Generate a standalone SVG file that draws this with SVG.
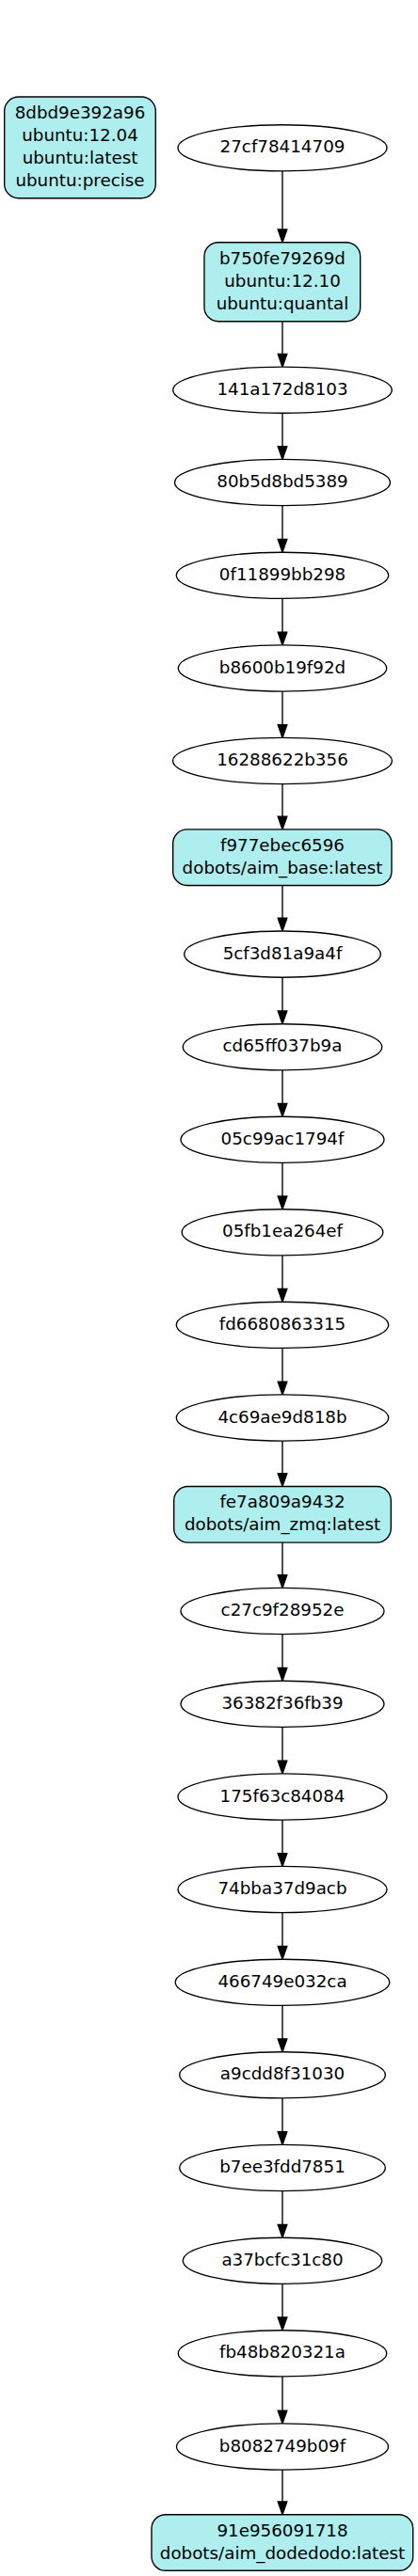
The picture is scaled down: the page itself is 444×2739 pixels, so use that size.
<svg xmlns="http://www.w3.org/2000/svg" width="444" height="2739" viewBox="0 0 444 2739">
<style>
.n ellipse{fill:#fff;stroke:#000;stroke-width:1.37}
.b rect{fill:#afeeee;stroke:#000;stroke-width:1.37}
text{font-family:"DejaVu Sans","Liberation Sans",sans-serif;font-size:18.3px;fill:#000;text-anchor:middle}
#edges line{stroke:#000;stroke-width:1.37;marker-end:url(#ah)}
</style>
<defs>
<marker id="ah" markerUnits="userSpaceOnUse" viewBox="0 0 14 10" markerWidth="14" markerHeight="10" refX="0" refY="5" orient="auto" overflow="visible">
<path d="M0,0.2 L13.7,5 L0,9.8 Z" fill="#000" stroke="#000" stroke-width="1.37"/>
</marker>
</defs>
<rect width="444" height="2739" fill="#fff"/>
<g id="edges">
<line x1="300" y1="181.9" x2="300" y2="244.0"/>
<line x1="300" y1="341.7" x2="300" y2="376.4"/>
<line x1="300" y1="439.3" x2="300" y2="474.7"/>
<line x1="300" y1="537.6" x2="300" y2="573.5"/>
<line x1="300" y1="636.4" x2="300" y2="672.2"/>
<line x1="300" y1="735.1" x2="300" y2="770.7"/>
<line x1="300" y1="833.6" x2="300" y2="868.2"/>
<line x1="300" y1="941.5" x2="300" y2="976.3"/>
<line x1="300" y1="1039.2" x2="300" y2="1075.0"/>
<line x1="300" y1="1137.9" x2="300" y2="1173.5"/>
<line x1="300" y1="1236.4" x2="300" y2="1272.0"/>
<line x1="300" y1="1334.9" x2="300" y2="1370.5"/>
<line x1="300" y1="1433.4" x2="300" y2="1469.2"/>
<line x1="300" y1="1532.1" x2="300" y2="1566.8"/>
<line x1="300" y1="1640.1" x2="300" y2="1674.7"/>
<line x1="300" y1="1737.6" x2="300" y2="1773.5"/>
<line x1="300" y1="1836.4" x2="300" y2="1872.2"/>
<line x1="300" y1="1935.1" x2="300" y2="1970.7"/>
<line x1="300" y1="2033.6" x2="300" y2="2069.5"/>
<line x1="300" y1="2132.4" x2="300" y2="2168.0"/>
<line x1="300" y1="2230.9" x2="300" y2="2266.7"/>
<line x1="300" y1="2329.6" x2="300" y2="2365.5"/>
<line x1="300" y1="2428.4" x2="300" y2="2464.0"/>
<line x1="300" y1="2526.9" x2="300" y2="2563.2"/>
<line x1="300" y1="2626.1" x2="300" y2="2660.0"/>
</g>
<g id="n8dbd9e392a96" class="b"><rect x="4.7" y="103" width="160.6" height="107.7" rx="15"/>
<text x="85" y="125.9">8dbd9e392a96</text><text x="85" y="149.9">ubuntu:12.04</text><text x="85" y="173.9">ubuntu:latest</text><text x="85" y="197.9">ubuntu:precise</text></g>
<g id="n27cf78414709" class="n"><ellipse cx="300" cy="157.3" rx="111" ry="24.6"/><text x="300" y="162.3">27cf78414709</text></g>
<g id="nb750fe79269d" class="b"><rect x="217" y="257.7" width="165.7" height="84" rx="15"/>
<text x="300" y="280.7">b750fe79269d</text><text x="300" y="304.7">ubuntu:12.10</text><text x="300" y="328.7">ubuntu:quantal</text></g>
<g id="n141a172d8103" class="n"><ellipse cx="300" cy="414.7" rx="116.3" ry="24.6"/><text x="300" y="419.7">141a172d8103</text></g>
<g id="n80b5d8bd5389" class="n"><ellipse cx="300" cy="513" rx="114.5" ry="24.6"/><text x="300" y="518">80b5d8bd5389</text></g>
<g id="n0f11899bb298" class="n"><ellipse cx="300" cy="611.8" rx="112.7" ry="24.6"/><text x="300" y="616.8">0f11899bb298</text></g>
<g id="nb8600b19f92d" class="n"><ellipse cx="300" cy="710.5" rx="110.7" ry="24.6"/><text x="300" y="715.5">b8600b19f92d</text></g>
<g id="n16288622b356" class="n"><ellipse cx="300" cy="809" rx="116.4" ry="24.6"/><text x="300" y="814">16288622b356</text></g>
<g id="nf977ebec6596" class="b"><rect x="183.7" y="881.9" width="232.3" height="59.6" rx="15"/>
<text x="300" y="904.7">f977ebec6596</text><text x="300" y="928.7">dobots/aim_base:latest</text></g>
<g id="n5cf3d81a9a4f" class="n"><ellipse cx="300" cy="1014.6" rx="104.3" ry="24.6"/><text x="300" y="1019.6">5cf3d81a9a4f</text></g>
<g id="ncd65ff037b9a" class="n"><ellipse cx="300" cy="1113.3" rx="105.7" ry="24.6"/><text x="300" y="1118.3">cd65ff037b9a</text></g>
<g id="n05c99ac1794f" class="n"><ellipse cx="300" cy="1211.8" rx="108" ry="24.6"/><text x="300" y="1216.8">05c99ac1794f</text></g>
<g id="n05fb1ea264ef" class="n"><ellipse cx="300" cy="1310.3" rx="106.8" ry="24.6"/><text x="300" y="1315.3">05fb1ea264ef</text></g>
<g id="nfd6680863315" class="n"><ellipse cx="300" cy="1408.8" rx="112.7" ry="24.6"/><text x="300" y="1413.8">fd6680863315</text></g>
<g id="n4c69ae9d818b" class="n"><ellipse cx="300" cy="1507.5" rx="112.7" ry="24.6"/><text x="300" y="1512.5">4c69ae9d818b</text></g>
<g id="nfe7a809a9432" class="b"><rect x="184.7" y="1580.5" width="230.6" height="59.6" rx="15"/>
<text x="300" y="1603.3">fe7a809a9432</text><text x="300" y="1627.3">dobots/aim_zmq:latest</text></g>
<g id="nc27c9f28952e" class="n"><ellipse cx="300" cy="1713" rx="108" ry="24.6"/><text x="300" y="1718">c27c9f28952e</text></g>
<g id="n36382f36fb39" class="n"><ellipse cx="300" cy="1811.8" rx="108" ry="24.6"/><text x="300" y="1816.8">36382f36fb39</text></g>
<g id="n175f63c84084" class="n"><ellipse cx="300" cy="1910.5" rx="111" ry="24.6"/><text x="300" y="1915.5">175f63c84084</text></g>
<g id="n74bba37d9acb" class="n"><ellipse cx="300" cy="2009" rx="111" ry="24.6"/><text x="300" y="2014">74bba37d9acb</text></g>
<g id="n466749e032ca" class="n"><ellipse cx="300" cy="2107.8" rx="113.8" ry="24.6"/><text x="300" y="2112.8">466749e032ca</text></g>
<g id="na9cdd8f31030" class="n"><ellipse cx="300" cy="2206.3" rx="109.3" ry="24.6"/><text x="300" y="2211.3">a9cdd8f31030</text></g>
<g id="nb7ee3fdd7851" class="n"><ellipse cx="300" cy="2305" rx="109.3" ry="24.6"/><text x="300" y="2310">b7ee3fdd7851</text></g>
<g id="na37bcfc31c80" class="n"><ellipse cx="300" cy="2403.8" rx="105.7" ry="24.6"/><text x="300" y="2408.8">a37bcfc31c80</text></g>
<g id="nfb48b820321a" class="n"><ellipse cx="300" cy="2502.3" rx="110.7" ry="24.6"/><text x="300" y="2507.3">fb48b820321a</text></g>
<g id="nb8082749b09f" class="n"><ellipse cx="300" cy="2601.5" rx="112.5" ry="24.6"/><text x="300" y="2606.5">b8082749b09f</text></g>
<g id="n91e956091718" class="b"><rect x="161" y="2673.7" width="277.7" height="59.6" rx="15"/>
<text x="300" y="2696.5">91e956091718</text><text x="300" y="2720.5">dobots/aim_dodedodo:latest</text></g>
</svg>
